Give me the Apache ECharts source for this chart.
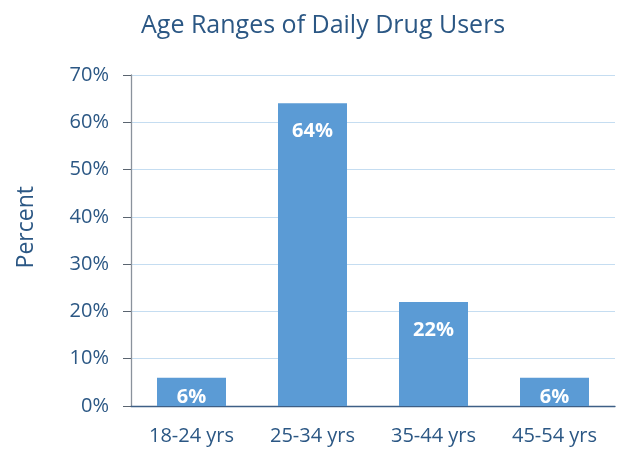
<!DOCTYPE html>
<html><head><meta charset="utf-8">
<script src="https://cdn.jsdelivr.net/npm/echarts@6/dist/echarts.min.js"></script>
<style>html,body{margin:0;padding:0;background:#fff}#c{width:618px;height:450px}</style>
</head><body><div id="c"></div>
<script>
const categories = ['18-24 yrs', '25-34 yrs', '35-44 yrs', '45-54 yrs'];
const values = [6, 64, 22, 6];
const yTicks = [0, 10, 20, 30, 40, 50, 60, 70];

const textColor = '#2B5784';
const font = 'Open Sans';
const chart = echarts.init(document.getElementById('c'));
chart.setOption({
  animation: false,
  title: {
    text: 'Age Ranges of Daily Drug Users',
    left: 136, top: 8,
    textStyle: { color: textColor, fontSize: 25, fontWeight: 'normal', fontFamily: font }
  },
  graphic: [{
    type: 'text', left: 15, top: 186, rotation: Math.PI / 2,
    style: { text: 'Percent', fill: textColor, fontSize: 23, fontFamily: font }
  }],
  grid: { left: 131, right: 3, top: 75, bottom: 44 },
  xAxis: {
    type: 'category', data: categories,
    axisLine: { lineStyle: { color: '#3E5F86', width: 1.3 } },
    axisTick: { show: false },
    axisLabel: { color: textColor, fontSize: 20, fontFamily: font, margin: 20 }
  },
  yAxis: {
    type: 'value', min: yTicks[0], max: yTicks[yTicks.length - 1], interval: 10,
    axisLine: { show: true, lineStyle: { color: '#8A929C', width: 1.3 } },
    axisTick: { show: true, length: 8, lineStyle: { color: '#5A6470' } },
    axisLabel: { color: textColor, fontSize: 20, fontFamily: font, margin: 22, formatter: '{value}%' },
    splitLine: { lineStyle: { color: '#C5DDF1', width: 1 } }
  },
  series: [{
    type: 'bar', barWidth: 69,
    data: values.map(v => ({
      value: v,
      label: { distance: v < 10 ? 10 : 18 }
    })),
    itemStyle: { color: '#5B9BD5' },
    label: {
      show: true, position: 'insideTop', formatter: '{c}%',
      color: '#fff', fontWeight: 'bold', fontSize: 20, fontFamily: font
    }
  }]
});
</script></body></html>
